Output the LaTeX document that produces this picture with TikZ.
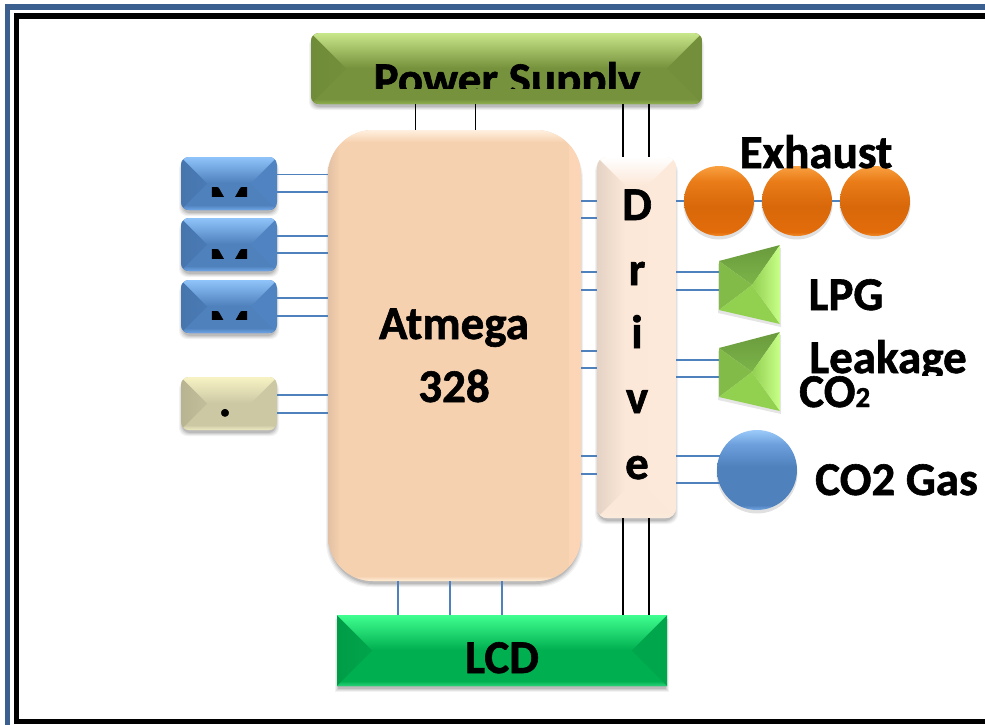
\documentclass[tikz,border=0pt]{standalone}
\usepackage{fontspec}
\setmainfont[BoldFeatures={FakeBold=1.3}]{Carlito}
\usetikzlibrary{calc}
\definecolor{frameblue}{HTML}{3B5F8F}
\definecolor{wireblue}{HTML}{4F81BD}
% bevel colour families
\definecolor{grntop}{HTML}{C8E68A}\definecolor{grnbase}{HTML}{76923C}\definecolor{grnleft}{HTML}{6F8C38}\definecolor{grnleftin}{HTML}{748F3B}\definecolor{grnright}{HTML}{748F3B}\definecolor{grnbot}{HTML}{8FB050}
\definecolor{blutop}{HTML}{8FC4FA}\definecolor{blubase}{HTML}{4F81BD}\definecolor{bluleft}{HTML}{4776AE}\definecolor{bluleftin}{HTML}{4A7AB4}\definecolor{bluright}{HTML}{4F83C2}\definecolor{blubot}{HTML}{6FA6E6}
\definecolor{beitop}{HTML}{F8F3C4}\definecolor{beibase}{HTML}{CCC8A4}\definecolor{beileft}{HTML}{B8B492}\definecolor{beileftin}{HTML}{C2BE9C}\definecolor{beiright}{HTML}{CCC8A4}\definecolor{beibot}{HTML}{EEEAC0}
\definecolor{lcdtop}{HTML}{40FF90}\definecolor{lcdbase}{HTML}{00AF50}\definecolor{lcdleft}{HTML}{009C47}\definecolor{lcdleftin}{HTML}{00A54B}\definecolor{lcdright}{HTML}{00A64C}\definecolor{lcdbot}{HTML}{2AD47A}
\definecolor{cputop}{HTML}{FFF0E0}\definecolor{cpubase}{HTML}{F6D1B0}\definecolor{cpuleft}{HTML}{E2C0A2}\definecolor{cpuleftin}{HTML}{F6D1B0}\definecolor{cpuright}{HTML}{FBD5B5}\definecolor{cpubot}{HTML}{FFEFD8}
\definecolor{drvtop}{HTML}{FFFFFF}\definecolor{drvbase}{HTML}{FCE8D8}\definecolor{drvleft}{HTML}{E4D2C4}\definecolor{drvleftin}{HTML}{FCE8D8}\definecolor{drvright}{HTML}{FDE9D9}\definecolor{drvbot}{HTML}{F9ECDE}
\definecolor{orgtop}{HTML}{F9A040}\definecolor{orgup}{HTML}{EA7C18}\definecolor{orgbase}{HTML}{E36C0A}\definecolor{orgdeep}{HTML}{D8680A}\definecolor{orgrim}{HTML}{F08A28}
\definecolor{trdark}{HTML}{7CB548}\definecolor{trmid}{HTML}{92D050}\definecolor{trlight}{HTML}{C8FF88}
\definecolor{ballbase}{HTML}{4F81BD}\definecolor{ballup}{HTML}{6C9FDC}\definecolor{balltop}{HTML}{9CCBFA}\definecolor{ballrim}{HTML}{74A8E6}
\pgfdeclareverticalshading{orgsph}{100bp}{color(0bp)=(orgrim); color(25bp)=(orgrim); color(28bp)=(orgbase); color(46bp)=(orgdeep); color(64bp)=(orgup); color(75bp)=(orgtop); color(100bp)=(orgtop)}
\pgfdeclareverticalshading{blusph}{100bp}{color(0bp)=(ballrim); color(25bp)=(ballrim); color(28bp)=(ballbase); color(52bp)=(ballbase); color(66bp)=(ballup); color(75bp)=(balltop); color(100bp)=(balltop)}
\tikzset{
  wire/.style={draw=wireblue,line width=1.4pt},
  pwire/.style={draw=black,line width=1.4pt},
  lbl/.style={font=\bfseries\fontsize{47}{47}\selectfont,text=black,inner sep=0pt,anchor=base},
  hub/.style={inner sep=0pt,outer sep=0pt}
}
\newcommand{\softshadow}[5]{%
  \foreach \g/\op in {3/.05,2/.06,1/.08,0/.10}{%
    \fill[black,opacity=\op,rounded corners=#5pt] ({#1+1-\g},{#2+4}) rectangle ({#3-1+\g},{#4+3+\g});
  }}
% #1 name, #2 x0, #3 y0, #4 x1, #5 y1, #6 radius, #7 bevel, #8 colour family
\newcommand{\bevelbox}[8]{%
  \softshadow{#2}{#3}{#4}{#5}{#6}
  \begin{scope}
    \clip[rounded corners=#6pt] (#2,#3) rectangle (#4,#5);
    \fill[#8base] (#2,#3) rectangle (#4,#5);
    \shade[left color=#8left,right color=#8leftin] (#2,#3) -- ({#2+#7},{#3+#7}) -- ({#2+#7},{#5-#7}) -- (#2,#5) -- cycle;
    \fill[#8right] (#4,#3) -- ({#4-#7},{#3+#7}) -- ({#4-#7},{#5-#7}) -- (#4,#5) -- cycle;
    \shade[top color=#8top,bottom color=#8base] (#2,#3) -- (#4,#3) -- ({#4-#7},{#3+#7}) -- ({#2+#7},{#3+#7}) -- cycle;
    \fill[#8base] (#2,#5) -- (#4,#5) -- ({#4-#7},{#5-#7}) -- ({#2+#7},{#5-#7}) -- cycle;
    \shade[top color=#8base,bottom color=#8bot] (#2,#5) -- (#4,#5) -- ({#4-5},{#5-5}) -- ({#2+5},{#5-5}) -- cycle;
  \end{scope}
  \node[hub,minimum width={(#4-#2)*1pt},minimum height={(#5-#3)*1pt}] (#1) at ({(#2+#4)/2},{(#3+#5)/2}) {};
}
\newcommand{\horn}[2]{% #1 name, #2 top y of the left edge
  \fill[black,opacity=.10] (718,{#2+3}) -- (781,{#2-13}) -- (781,{#2+66}) -- (718,{#2+52}) -- cycle;
  \shade[top color=trdark!85!black,bottom color=trdark] (719,#2) -- (780,{#2-16}) -- (752,{#2+24}) -- cycle;
  \fill[trmid!90!black] (719,#2) -- (752,{#2+24}) -- (719,{#2+49}) -- cycle;
  \fill[trmid] (719,{#2+49}) -- (752,{#2+24}) -- (780,{#2+63}) -- cycle;
  \shade[left color=trmid,right color=trlight] (780,{#2-16}) -- (780,{#2+63}) -- (752,{#2+24}) -- cycle;
  \node[hub,minimum width=61pt,minimum height=79pt] (#1) at (749.5,{#2+23.5}) {};
}
\newcommand{\ball}[3]{% #1 name, #2 x, #3 y
  \fill[black,opacity=.12] (#2,{#3+3}) circle (35.5);
  \shade[shading=orgsph] (#2,#3) circle (35);
  \node[hub,circle,minimum size=70pt] (#1) at (#2,#3) {};
}
\begin{document}
\begin{tikzpicture}[x=1pt,y=-1pt]
\useasboundingbox (0,0) rectangle (985,724);
\begin{scope}
\clip (0,0) rectangle (985,724);
\fill[white] (0,0) rectangle (985,724);
% frames
\draw[frameblue,line width=5.5pt] (7.5,7.2) rectangle (1010,760);
\draw[black,line width=5.5pt] (16.5,16) rectangle (1010,721.3);
\end{scope}
% boxes
\bevelbox{psu}{311}{33}{702}{104}{8}{35}{grn}
\bevelbox{mA}{181}{157}{277}{210}{8}{26}{blu}
\bevelbox{mB}{181}{218}{277}{271}{8}{26}{blu}
\bevelbox{mC}{181}{280}{277}{333}{8}{26}{blu}
\bevelbox{sw}{181}{377}{277}{430}{8}{26}{bei}
\bevelbox{cpu}{328}{130}{581}{581}{45}{12}{cpu}
\bevelbox{drv}{597}{157}{676}{518}{10}{28}{drv}
\bevelbox{lcd}{337}{615}{667}{686}{0}{35}{lcd}
\ball{exA}{719}{201}
\ball{exB}{797}{201}
\ball{exC}{875}{201}
\horn{lpg}{261}
\horn{co}{348}
\fill[black,opacity=.12] (757,473) circle (40.5);
\shade[shading=blusph] (757,470) circle (40);
\node[hub,circle,minimum size=80pt] (gas) at (757,470) {};
% connectors
\foreach \y in {174.5,192}{\draw[wire] (mA.east |- 0,\y) -- (cpu.west |- 0,\y);}
\foreach \y in {236,253}{\draw[wire] (mB.east |- 0,\y) -- (cpu.west |- 0,\y);}
\foreach \y in {298,316}{\draw[wire] (mC.east |- 0,\y) -- (cpu.west |- 0,\y);}
\foreach \y in {395,413}{\draw[wire] (sw.east |- 0,\y) -- (cpu.west |- 0,\y);}
\foreach \y in {201,218,272,290,351,368,456,474}{\draw[wire] (cpu.east |- 0,\y) -- (drv.west |- 0,\y);}
\draw[wire] (drv.east |- 0,201) -- (exA.west);
\draw[wire] (exA.east) -- (exB.west);
\draw[wire] (exB.east) -- (exC.west);
\foreach \y in {272,290}{\draw[wire] (drv.east |- 0,\y) -- (lpg.west |- 0,\y);}
\foreach \y in {360,377}{\draw[wire] (drv.east |- 0,\y) -- (co.west |- 0,\y);}
\foreach \y in {456,483}{\draw[wire,shorten >=-2.5pt] (drv.east |- 0,\y) -- (gas.west |- 0,\y);}
\foreach \x in {398,450,502}{\draw[wire] (cpu.south -| \x,0) -- (lcd.north -| \x,0);}
\foreach \x in {415.5,475.5}{\draw[pwire] (psu.south -| \x,0) -- (cpu.north -| \x,0);}
\foreach \x in {623,649}{
  \draw[pwire] (psu.south -| \x,0) -- (drv.north -| \x,0);
  \draw[pwire] (drv.south -| \x,0) -- (lcd.north -| \x,0);
}
% labels
\begin{scope}
\clip (300,30) rectangle (720,88);
\node[lbl] (tPsu) at (507,95) {Power Supply};
\end{scope}
\begin{scope}\clip (190,160) rectangle (270,196);\node[lbl] (tA) at (229.5,218) {M};\end{scope}
\begin{scope}\clip (190,222) rectangle (270,258);\node[lbl] (tB) at (229.5,280) {M};\end{scope}
\begin{scope}\clip (190,284) rectangle (270,319);\node[lbl] (tC) at (229.5,342) {M};\end{scope}
\node[lbl] (tSw) at (225,416) {.};
\node[lbl] (tCpuA) at (454,339) {Atmega};
\node[lbl] (tCpuB) at (454,402) {328};
\node[lbl] (d1) at (637,220) {D};
\node[lbl] (d2) at (637,285) {r};
\node[lbl] (d3) at (637,348) {i};
\node[lbl] (d4) at (637,413) {v};
\node[lbl] (d5) at (637,479) {e};
\node[lbl] (tEx) at (816,168) {Exhaust};
\node[lbl] (tLpg) at (846,310) {LPG};
\begin{scope}\clip (800,330) rectangle (985,375);\node[lbl] (tLeak) at (888,373) {Leakage};\end{scope}
\node[lbl,anchor=base west] (tCo) at (799,407) {CO{\fontsize{29}{29}\selectfont 2}};
\node[lbl] (tGas) at (896.5,495) {CO2 Gas};
\node[lbl] (tLcd) at (502,673) {LCD};
\end{tikzpicture}
\end{document}
